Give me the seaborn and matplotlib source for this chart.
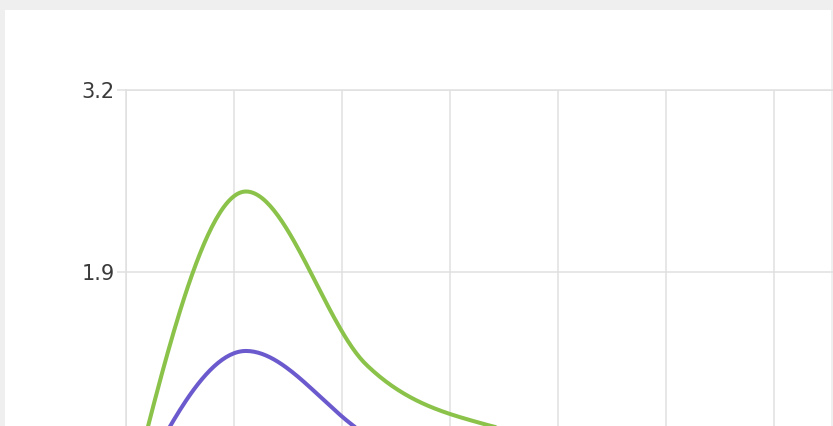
import numpy as np
import pandas as pd
import matplotlib
matplotlib.use("Agg")
import matplotlib.pyplot as plt
from matplotlib.patches import Rectangle
import seaborn as sns

# ---- data ----
x_points = [0, 1, 2, 3, 4, 5, 6, 7, 8]
green_values = [0.17, 2.475, 1.24, 0.81, 0.69, 0.50, 0.36, 0.28, 0.22]
purple_values = [0.20, 1.336, 0.74, 0.31, 0.24, 0.33, 0.27, 0.20, 0.16]
y_ticks = [1.9, 3.2]
y_tick_labels = ["1.9", "3.2"]

GREEN = "#8bc34a"
PURPLE = "#6a5acd"
GRID = "#e0e0e0"


def monotone_curve(xp, yp, n=60):
    """d3-style monotoneX cubic interpolation used to render a smooth line."""
    xp = np.asarray(xp, float)
    yp = np.asarray(yp, float)
    h = np.diff(xp)
    s = np.diff(yp) / h
    m = np.zeros_like(yp)
    for i in range(1, len(yp) - 1):
        p = (s[i - 1] * h[i] + s[i] * h[i - 1]) / (h[i - 1] + h[i])
        m[i] = (np.sign(s[i - 1]) + np.sign(s[i])) * min(abs(s[i - 1]), abs(s[i]), 0.5 * abs(p))
    m[0] = (3 * s[0] - m[1]) / 2
    m[-1] = (3 * s[-1] - m[-2]) / 2
    xs, ys = [], []
    for i in range(len(xp) - 1):
        t = np.linspace(0, 1, n, endpoint=(i == len(xp) - 2))
        h00 = 2 * t**3 - 3 * t**2 + 1
        h10 = t**3 - 2 * t**2 + t
        h01 = -2 * t**3 + 3 * t**2
        h11 = t**3 - t**2
        xs.append(xp[i] + t * h[i])
        ys.append(h00 * yp[i] + h10 * h[i] * m[i] + h01 * yp[i + 1] + h11 * h[i] * m[i + 1])
    return np.concatenate(xs), np.concatenate(ys)


sns.set_style("white")
plt.rcParams["font.family"] = ["DejaVu Sans"]

W, H = 833, 426
fig = plt.figure(figsize=(W / 100, H / 100), dpi=100)
fig.patch.set_facecolor("#efefef")
fig.add_artist(Rectangle((5 / W, 0), 826 / W, (H - 10) / H, transform=fig.transFigure,
                         facecolor="white", edgecolor="none", zorder=0))

# axes: x=0 at px 126, 120 px per point; y: 3.2 at px 90, 140 px per unit
px_per_x = 120
px_per_y = 140
ymin, ymax = -0.7, 3.2
xmin, xmax = 0, 8
ax_h = (ymax - ymin) * px_per_y
ax_w = (xmax - xmin) * px_per_x
ax = fig.add_axes([126 / W, (H - 90 - ax_h) / H, ax_w / W, ax_h / H])
ax.set_facecolor("none")

gx, gy = monotone_curve(x_points, green_values)
pxs, pys = monotone_curve(x_points, purple_values)
df = pd.concat([
    pd.DataFrame({"x": gx, "y": gy, "series": "green"}),
    pd.DataFrame({"x": pxs, "y": pys, "series": "purple"}),
])
sns.lineplot(data=df, x="x", y="y", hue="series", palette={"green": GREEN, "purple": PURPLE},
             linewidth=2.9, sort=False, estimator=None, legend=False, ax=ax)

ax.set_xlim(xmin, xmax)
ax.set_ylim(ymin, ymax)
ax.set_xticks(np.arange(0, 8.01, 0.9))
ax.set_xticklabels([])
ax.set_yticks(y_ticks)
ax.set_yticklabels(y_tick_labels)
ax.tick_params(axis="x", length=0)
ax.tick_params(axis="y", length=6.5, width=1.1, color=GRID, pad=1.5,
               labelsize=15, labelcolor="#3a3a3a", left=True)
ax.grid(True, color=GRID, linewidth=1.1)
ax.set_axisbelow(True)
for side in ["right", "bottom"]:
    ax.spines[side].set_visible(False)
for side in ["left", "top"]:
    ax.spines[side].set_visible(True)
    ax.spines[side].set_color(GRID)
    ax.spines[side].set_linewidth(1.1)
ax.set_xlabel("")
ax.set_ylabel("")

fig.savefig("out.png", dpi=100)
